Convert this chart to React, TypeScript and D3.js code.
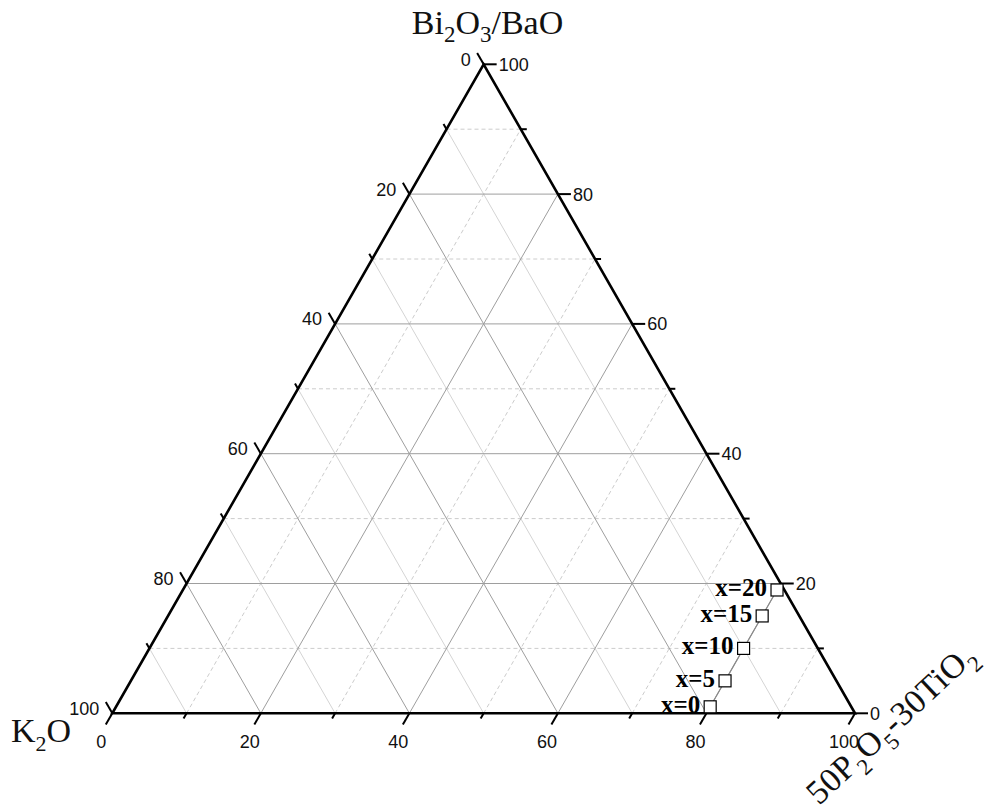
import React, { useRef, useEffect } from "react";
import * as d3 from "d3";

// composition of the glasses (mol%)
const sampleLabels = ["x=0", "x=5", "x=10", "x=15", "x=20"];
const bi2o3Values = [1, 5, 10, 15, 19];
const p2o5TiO2Values = [80, 80, 80, 80, 80];

const tickValues = [0, 10, 20, 30, 40, 50, 60, 70, 80, 90, 100];
const gridValues = [10, 20, 30, 40, 50, 60, 70, 80, 90];

const SANS = "'Liberation Sans', Arial, sans-serif";
const SERIF = "'Liberation Serif', 'Times New Roman', serif";

function TernaryChart() {
  const svgRef = useRef<SVGSVGElement>(null);

  useEffect(() => {
    const svg = d3.select(svgRef.current);
    svg.selectAll("*").remove();

    // corners of the triangle
    const left = 112.3;
    const right = 855;
    const bottom = 713.3;
    const top = 64.3;

    // horizontal position comes from P + Bi/2, vertical from Bi
    const sx = d3.scaleLinear().domain([0, 100]).range([left, right]);
    const sy = d3.scaleLinear().domain([0, 100]).range([bottom, top]);
    const pt = (p: number, bi: number): [number, number] => [sx(p + bi / 2), sy(bi)];

    const g = svg.append("g");

    // grid
    const gridStyle = (v: number, kind: string) => {
      if (v % 20 === 0) return { stroke: "#9e9e9e", dash: null };
      if (kind === "k") return { stroke: "#d4d4d4", dash: null };
      return { stroke: "#cccccc", dash: "4,3" };
    };
    const gridLines: { a: [number, number]; b: [number, number]; kind: string; v: number }[] = [];
    gridValues.forEach((v) => {
      gridLines.push({ a: pt(0, v), b: pt(100 - v, v), kind: "bi", v }); // constant Bi
      gridLines.push({ a: pt(v, 0), b: pt(v, 100 - v), kind: "p", v }); // constant P
      gridLines.push({ a: pt(100 - v, 0), b: pt(0, 100 - v), kind: "k", v }); // constant K
    });
    // minor first so majors sit on top
    gridLines.sort((a, b) => (a.v % 20 === 0 ? 1 : 0) - (b.v % 20 === 0 ? 1 : 0));
    g.selectAll("line.grid")
      .data(gridLines)
      .join("line")
      .attr("class", "grid")
      .attr("x1", (d) => d.a[0])
      .attr("y1", (d) => d.a[1])
      .attr("x2", (d) => d.b[0])
      .attr("y2", (d) => d.b[1])
      .attr("stroke", (d) => gridStyle(d.v, d.kind).stroke)
      .attr("stroke-width", 1)
      .attr("stroke-dasharray", (d) => gridStyle(d.v, d.kind).dash);

    // ticks for the three axes
    const c60 = 0.5;
    const s60 = Math.sqrt(3) / 2;
    const tickLen = (v: number) => (v % 20 === 0 ? 13 : 6);
    const ticks: { x: number; y: number; dx: number; dy: number }[] = [];
    tickValues.forEach((v) => {
      // right axis: Bi2O3/BaO
      const r = pt(100 - v, v);
      ticks.push({ x: r[0], y: r[1], dx: tickLen(v), dy: 0 });
      // left axis: K2O
      const l = pt(0, 100 - v);
      ticks.push({ x: l[0], y: l[1], dx: -c60 * tickLen(v), dy: -s60 * tickLen(v) });
      // bottom axis: 50P2O5-30TiO2
      const b = pt(v, 0);
      ticks.push({ x: b[0], y: b[1], dx: -c60 * tickLen(v), dy: s60 * tickLen(v) });
    });
    g.selectAll("line.tick")
      .data(ticks)
      .join("line")
      .attr("class", "tick")
      .attr("x1", (d) => d.x)
      .attr("y1", (d) => d.y)
      .attr("x2", (d) => d.x + d.dx)
      .attr("y2", (d) => d.y + d.dy)
      .attr("stroke", "#000")
      .attr("stroke-width", 2);

    // triangle frame
    const corners = [pt(0, 0), pt(100, 0), pt(0, 100)];
    g.append("path")
      .attr("d", d3.line()(corners) + "Z")
      .attr("fill", "none")
      .attr("stroke", "#000")
      .attr("stroke-width", 2.6)
      .attr("stroke-linejoin", "miter");

    // tick labels
    const majors = tickValues.filter((v) => v % 20 === 0);
    const lab = g.append("g").attr("font-family", SANS).attr("font-size", 18).attr("fill", "#111");
    lab.selectAll("text.r")
      .data(majors)
      .join("text")
      .attr("class", "r")
      .attr("x", (v) => pt(100 - v, v)[0] + 15)
      .attr("y", (v) => pt(100 - v, v)[1] + 6.5)
      .text((v) => v);
    lab.selectAll("text.l")
      .data(majors)
      .join("text")
      .attr("class", "l")
      .attr("text-anchor", "end")
      .attr("x", (v) => pt(0, 100 - v)[0] - 13)
      .attr("y", (v) => pt(0, 100 - v)[1] + 1.5)
      .text((v) => v);
    lab.selectAll("text.b")
      .data(majors)
      .join("text")
      .attr("class", "b")
      .attr("text-anchor", "middle")
      .attr("x", (v) => pt(v, 0)[0] - 11)
      .attr("y", bottom + 35)
      .text((v) => v);

    // data: connecting line and square markers
    const data = sampleLabels.map((s, i) => ({ s, p: p2o5TiO2Values[i], bi: bi2o3Values[i] }));
    const line = d3
      .line<{ p: number; bi: number }>()
      .x((d) => pt(d.p, d.bi)[0])
      .y((d) => pt(d.p, d.bi)[1]);
    g.append("path")
      .datum(data)
      .attr("d", line)
      .attr("fill", "none")
      .attr("stroke", "#8a8a8a")
      .attr("stroke-width", 1.2);
    const size = 12;
    g.selectAll("rect.pt")
      .data(data)
      .join("rect")
      .attr("class", "pt")
      .attr("x", (d) => pt(d.p, d.bi)[0] - size / 2)
      .attr("y", (d) => pt(d.p, d.bi)[1] - size / 2)
      .attr("width", size)
      .attr("height", size)
      .attr("fill", "#fff")
      .attr("stroke", "#000")
      .attr("stroke-width", 1.2);
    g.selectAll("text.pt")
      .data(data)
      .join("text")
      .attr("class", "pt")
      .attr("text-anchor", "end")
      .attr("font-family", SERIF)
      .attr("font-weight", "bold")
      .attr("font-size", 25)
      .attr("x", (d) => pt(d.p, d.bi)[0] - 10)
      .attr("y", (d) => pt(d.p, d.bi)[1] + 6)
      .text((d) => d.s);

    // corner titles with subscripts
    const formula = (sel: any, parts: [string, boolean][], big: number, small: number, shift: number) => {
      let down = false;
      parts.forEach(([txt, sub]) => {
        const t = sel.append("tspan").text(txt).attr("font-size", sub ? small : big);
        if (sub && !down) { t.attr("dy", shift); down = true; }
        else if (!sub && down) { t.attr("dy", -shift); down = false; }
      });
    };
    const topTitle = g.append("text")
      .attr("font-family", SERIF)
      .attr("text-anchor", "middle")
      .attr("x", 487.5)
      .attr("y", 33.5)
      .attr("fill", "#111");
    formula(topTitle, [["Bi", false], ["2", true], ["O", false], ["3", true], ["/BaO", false]], 34, 23, 8);

    const leftTitle = g.append("text")
      .attr("font-family", SERIF)
      .attr("x", 11)
      .attr("y", 741.5)
      .attr("fill", "#111");
    formula(leftTitle, [["K", false], ["2", true], ["O", false]], 34, 22, 9);

    const rightTitle = g.append("text")
      .attr("font-family", SERIF)
      .attr("letter-spacing", 0.5)
      .attr("transform", "translate(819,806) rotate(-43)")
      .attr("fill", "#111");
    formula(rightTitle, [["50P", false], ["2", true], ["O", false], ["5", true], ["-30TiO", false], ["2", true]], 34, 23, 10);
  }, []);

  return (
    <svg
      ref={svgRef}
      width={998}
      height={812}
      style={{ position: "absolute", left: 0, top: 0, background: "#fff" }}
    />
  );
}

export default function App() {
  return <TernaryChart />;
}
